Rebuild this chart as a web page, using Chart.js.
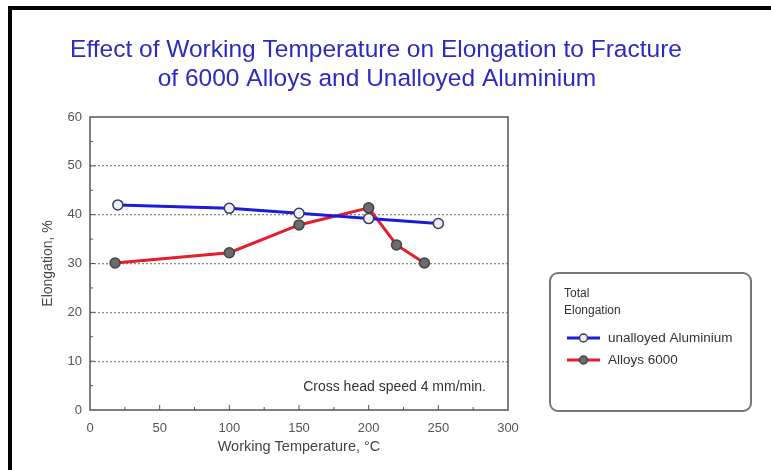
<!DOCTYPE html>
<html>
<head>
<meta charset="utf-8">
<script src="https://cdn.jsdelivr.net/npm/chart.js@4"></script>
<style>
  html, body { margin: 0; padding: 0; background: #fff; }
  #wrap { width: 771px; height: 470px; position: relative; }
</style>
</head>
<body>
<div id="wrap"><canvas id="chart" width="771" height="470"></canvas></div>
<script>
// data
const titleLines = ['Effect of Working Temperature on Elongation to Fracture', 'of 6000 Alloys and Unalloyed Aluminium'];
const aluTemps = [20, 100, 150, 200, 250];
const aluElong = [42, 41.3, 40.3, 39.2, 38.2];
const alloyTemps = [18, 100, 150, 200, 220, 240];
const alloyElong = [30.1, 32.2, 37.9, 41.4, 33.8, 30.1];
const seriesNames = ['unalloyed Aluminium', 'Alloys 6000'];
const legendTitle = ['Total', 'Elongation'];
const noteText = 'Cross head speed 4 mm/min.';

const toPoints = (xs, ys) => xs.map((x, i) => ({ x, y: ys[i] }));

// frame, title, plot box, inward ticks, note and legend
const decorations = {
  id: 'decorations',
  beforeDraw(chart) {
    const ctx = chart.ctx;
    ctx.save();
    ctx.fillStyle = '#fff';
    ctx.fillRect(0, 0, chart.width, chart.height);
    ctx.fillStyle = '#000';
    ctx.fillRect(8, 6, chart.width - 8, 4);
    ctx.fillRect(8, 6, 4, chart.height - 6);
    ctx.restore();
  },
  afterDatasetsDraw(chart) {
    const { ctx, chartArea: a, scales: { x, y } } = chart;
    ctx.save();

    // plot box
    ctx.strokeStyle = '#555';
    ctx.lineWidth = 1.5;
    ctx.strokeRect(a.left, a.top, a.right - a.left, a.bottom - a.top);

    // inward tick marks
    ctx.lineWidth = 1;
    for (let v = 25; v < 300; v += 25) {
      const px = x.getPixelForValue(v);
      const len = v % 50 === 0 ? 5 : 3;
      ctx.beginPath(); ctx.moveTo(px, a.bottom); ctx.lineTo(px, a.bottom - len); ctx.stroke();
    }
    for (let v = 5; v < 60; v += 5) {
      const py = y.getPixelForValue(v);
      const len = v % 10 === 0 ? 5 : 3;
      ctx.beginPath(); ctx.moveTo(a.left, py); ctx.lineTo(a.left + len, py); ctx.stroke();
    }

    // title
    ctx.fillStyle = '#2b2bbf';
    ctx.font = '24.5px "Liberation Sans", Arial, sans-serif';
    ctx.textAlign = 'center';
    ctx.textBaseline = 'middle';
    ctx.fillText(titleLines[0], 376, 50);
    ctx.fillText(titleLines[1], 377, 79);

    // note
    ctx.fillStyle = '#333';
    ctx.font = '14px "Liberation Sans", Arial, sans-serif';
    ctx.textAlign = 'right';
    ctx.fillText(noteText, 486, 387);

    // legend box
    const lx = 550, ly = 273, lw = 201, lh = 138, r = 8;
    ctx.strokeStyle = '#777';
    ctx.lineWidth = 2;
    ctx.beginPath();
    ctx.roundRect(lx, ly, lw, lh, r);
    ctx.stroke();
    ctx.textAlign = 'left';
    ctx.fillStyle = '#333';
    ctx.font = '12px "Liberation Sans", Arial, sans-serif';
    ctx.fillText(legendTitle[0], 564, 294);
    ctx.fillText(legendTitle[1], 564, 311);
    const rows = [338, 360];
    chart.data.datasets.forEach((ds, i) => {
      const yy = rows[i];
      ctx.strokeStyle = ds.borderColor;
      ctx.lineWidth = 3;
      ctx.beginPath(); ctx.moveTo(567, yy); ctx.lineTo(600, yy); ctx.stroke();
      ctx.fillStyle = ds.pointBackgroundColor;
      ctx.strokeStyle = ds.pointBorderColor;
      ctx.lineWidth = 1.5;
      ctx.beginPath(); ctx.arc(583.5, yy, 4, 0, Math.PI * 2); ctx.fill(); ctx.stroke();
      ctx.fillStyle = '#333';
      ctx.font = '13.5px "Liberation Sans", Arial, sans-serif';
      ctx.fillText(ds.label, 608, yy);
    });
    ctx.restore();
  }
};

new Chart(document.getElementById('chart'), {
  type: 'scatter',
  data: {
    datasets: [
      {
        label: seriesNames[0],
        data: toPoints(aluTemps, aluElong),
        showLine: true,
        borderColor: '#1c1cd8',
        borderWidth: 3,
        pointRadius: 5,
        pointBackgroundColor: '#eeeeee',
        pointBorderColor: '#3a3a6a',
        pointBorderWidth: 1.5
      },
      {
        label: seriesNames[1],
        data: toPoints(alloyTemps, alloyElong),
        showLine: true,
        borderColor: '#e21f2a',
        borderWidth: 3,
        pointRadius: 5,
        pointBackgroundColor: '#6b6b6b',
        pointBorderColor: '#444',
        pointBorderWidth: 1.5
      }
    ]
  },
  options: {
    responsive: false,
    animation: false,
    layout: { padding: { top: 117, right: 263, left: 0, bottom: 0 } },
    plugins: { legend: { display: false }, title: { display: false }, tooltip: { enabled: false } },
    scales: {
      x: {
        type: 'linear',
        min: 0, max: 300,
        ticks: { stepSize: 50, color: '#555', padding: 11, font: { family: '"Liberation Sans", Arial', size: 13 } },
        grid: { display: false, drawTicks: false },
        border: { display: false },
        title: { display: true, text: 'Working Temperature, °C', color: '#444', padding: { bottom: 14 }, font: { family: '"Liberation Sans", Arial', size: 14.5 } },
        afterFit: s => { s.height = 60; }
      },
      y: {
        min: 0, max: 60,
        ticks: { stepSize: 10, color: '#555', padding: 8, font: { family: '"Liberation Sans", Arial', size: 13 } },
        grid: {
          drawTicks: false,
          color: ctx => (ctx.tick && ctx.tick.value > 0 && ctx.tick.value < 60) ? '#8a8a8a' : 'rgba(0,0,0,0)',
          lineWidth: 1.3
        },
        border: { display: false, dash: [2, 2] },
        title: { display: true, text: 'Elongation, %', color: '#444', padding: { top: 40 }, font: { family: '"Liberation Sans", Arial', size: 14 } },
        afterFit: s => { s.width = 90; }
      }
    }
  },
  plugins: [decorations]
});
</script>
</body>
</html>
